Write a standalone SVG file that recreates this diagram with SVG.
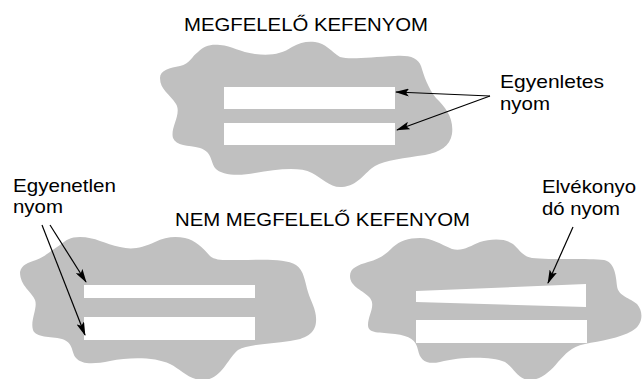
<svg xmlns="http://www.w3.org/2000/svg" width="642" height="379" viewBox="0 0 642 379">
<defs>
<style>
.blob{fill:#c0c0c0;stroke:none}
.strip{fill:#ffffff;stroke:none}
.lbl{font-family:"Liberation Sans",Arial,Helvetica,sans-serif;font-size:19px;fill:#000}
.arr{stroke:#000;stroke-width:1.2;fill:none;marker-end:url(#ah)}
</style>
<marker id="ah" viewBox="0 0 14 8" refX="13" refY="4" markerWidth="14" markerHeight="8" markerUnits="userSpaceOnUse" orient="auto">
<path d="M0,0 L14,4 L0,8 L3,4 Z" fill="#000"/>
</marker>
</defs>
<rect width="642" height="379" fill="#fff"/>
<g id="good">
<path class="blob" d="M 160,78 C 160,70 170,68 180,66 C 190,64 192,56 198,52 C 204,46 210,44 220,45 C 232,46 240,52 255,54 C 270,56 282,54 292,47 C 300,42 308,41 315,42 C 325,43 332,52 340,57 C 350,60 370,57 395,56 C 410,55 418,58 421,66 C 424,76 428,88 436,98 C 446,108 454,118 452,134 C 450,146 440,152 425,155 C 405,158 385,160 375,166 C 365,172 358,186 342,187 C 330,188 322,178 312,173 C 298,166 275,170 255,173 C 240,176 222,176 215,168 C 210,160 212,152 200,148 C 188,145 176,146 173,138 C 170,128 182,114 176,104 C 170,94 160,90 160,78 Z"/>
<rect class="strip" x="224" y="87" width="171" height="22"/>
<rect class="strip" x="224" y="123" width="171" height="22"/>
<text class="lbl" x="184" y="31" textLength="244" lengthAdjust="spacingAndGlyphs">MEGFELELŐ KEFENYOM</text>
</g>
<g id="uneven">
<path class="blob" d="M 20,272 C 22,264 28,263 36,260 C 46,256 52,250 60,245 C 66,240 70,237 80,237 C 95,237 105,244 120,247 C 132,250 142,248 155,242 C 165,237 175,236 185,238 C 195,240 203,248 210,256 C 216,261 225,260 240,260 C 260,260 285,258 296,265 C 304,270 305,282 308,292 C 311,302 317,310 316,322 C 315,334 305,339 290,341 C 270,344 248,344 238,350 C 228,358 222,378 205,380 C 190,381 182,370 170,364 C 155,357 130,357 110,361 C 95,364 82,365 76,358 C 71,352 74,343 62,339 C 50,336 36,338 33,330 C 30,320 38,308 35,300 C 32,292 20,286 20,272 Z"/>
<rect class="strip" x="84" y="285" width="171" height="13"/>
<rect class="strip" x="84" y="317" width="171" height="23"/>
</g>
<g id="thinning">
<path class="blob" d="M 350,276 C 350,268 358,265 368,262 C 380,259 386,254 393,247 C 400,241 408,238 420,238 C 432,238 440,244 452,249 C 462,252 470,246 480,242 C 490,239 505,238 513,244 C 520,250 522,256 532,258 C 550,260 590,258 604,260 C 614,262 616,274 617,286 C 618,296 630,298 637,304 C 644,312 643,325 632,331 C 620,338 600,341 585,344 C 570,347 566,354 558,362 C 550,372 540,380 530,380 C 518,380 514,368 505,362 C 490,356 460,357 440,362 C 426,365 420,360 418,350 C 416,340 410,336 395,334 C 380,332 368,334 368,325 C 368,315 376,306 370,298 C 363,290 350,287 350,276 Z"/>
<polygon class="strip" points="416,291 586,284 586,307 416,302"/>
<rect class="strip" x="416" y="320" width="171" height="23"/>
</g>
<g id="title-bad">
<text class="lbl" x="175" y="226" textLength="295" lengthAdjust="spacingAndGlyphs">NEM MEGFELELŐ KEFENYOM</text>
</g>
<g id="label-even">
<text class="lbl" x="500" y="88" textLength="104" lengthAdjust="spacingAndGlyphs">Egyenletes</text>
<text class="lbl" x="500" y="110" textLength="50" lengthAdjust="spacingAndGlyphs">nyom</text>
</g>
<g id="label-uneven">
<text class="lbl" x="13" y="192" textLength="103" lengthAdjust="spacingAndGlyphs">Egyenetlen</text>
<text class="lbl" x="13" y="213" textLength="50" lengthAdjust="spacingAndGlyphs">nyom</text>
</g>
<g id="label-thin">
<text class="lbl" x="542" y="193" textLength="94" lengthAdjust="spacingAndGlyphs">Elvékonyo</text>
<text class="lbl" x="542" y="215" textLength="78" lengthAdjust="spacingAndGlyphs">dó nyom</text>
</g>
<g id="connectors">
<line class="arr" x1="490" y1="96" x2="396" y2="92"/>
<line class="arr" x1="490" y1="96" x2="397" y2="130"/>
<line class="arr" x1="50" y1="225" x2="86" y2="282"/>
<line class="arr" x1="42" y1="225" x2="85" y2="335"/>
<line class="arr" x1="573" y1="227" x2="548" y2="283"/>
</g>
</svg>
